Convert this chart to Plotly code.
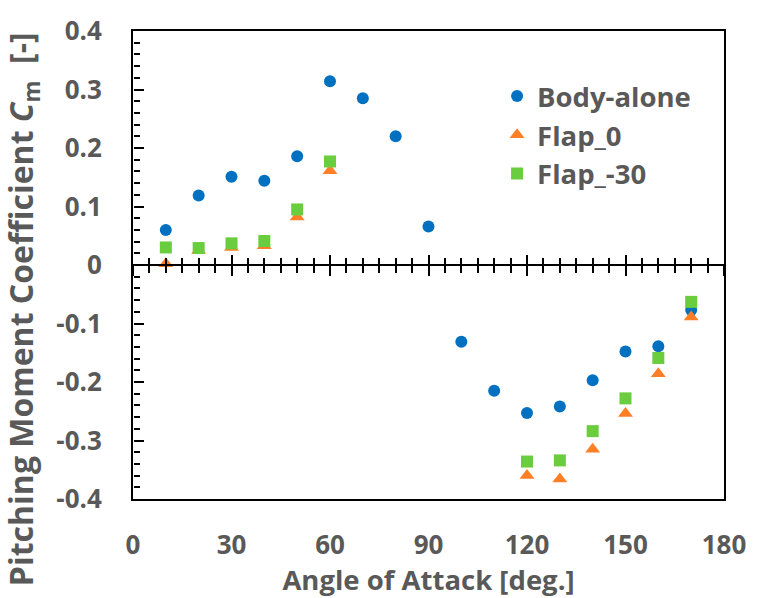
import plotly.graph_objects as go

angles = [10, 20, 30, 40, 50, 60, 70, 80, 90, 100, 110, 120, 130, 140, 150, 160, 170]
body_alone = [0.060, 0.119, 0.151, 0.144, 0.186, 0.314, 0.285, 0.220, 0.066,
              -0.131, -0.215, -0.253, -0.242, -0.197, -0.148, -0.139, -0.077]
flap_angles = [10, 20, 30, 40, 50, 60, 120, 130, 140, 150, 160, 170]
flap_0 = [0.002, 0.025, 0.030, 0.033, 0.082, 0.161, -0.360, -0.366, -0.315, -0.254, -0.186, -0.089]
flap_m30 = [0.030, 0.029, 0.037, 0.041, 0.095, 0.177, -0.336, -0.334, -0.284, -0.228, -0.159, -0.063]

x_ticks = [0, 30, 60, 90, 120, 150, 180]
y_ticks = [-0.4, -0.3, -0.2, -0.1, 0, 0.1, 0.2, 0.3, 0.4]
y_ticktext = ["-0.4", "-0.3", "-0.2", "-0.1", "0", "0.1", "0.2", "0.3", "0.4"]

GRAY = "#595959"
FONT = "Open Sans"

fig = go.Figure()
# invisible helper traces so the extra tick axes (x2, x3, y2) get drawn
for ax in ("x2", "x3"):
    fig.add_trace(go.Scatter(x=angles, y=body_alone, xaxis=ax, mode="markers",
                             marker=dict(opacity=0, size=1), showlegend=False,
                             hoverinfo="skip"))
fig.add_trace(go.Scatter(x=angles, y=body_alone, yaxis="y2", mode="markers",
                         marker=dict(opacity=0, size=1), showlegend=False,
                         hoverinfo="skip"))
fig.add_trace(go.Scatter(x=angles, y=body_alone, mode="markers", name="Body-alone",
                         legendgroup="a",
                         marker=dict(symbol="circle", size=12, color="#0070C0")))
fig.add_trace(go.Scatter(x=flap_angles, y=flap_0, mode="markers", name="Flap_0",
                         legendgroup="b",
                         marker=dict(symbol="triangle-up", size=13, color="#FF7F27")))
fig.add_trace(go.Scatter(x=flap_angles, y=flap_m30, mode="markers", name="Flap_-30",
                         legendgroup="c",
                         marker=dict(symbol="square", size=12, color="#6ACD3E")))

fig.update_layout(
    width=758, height=598,
    margin=dict(l=133, r=23, t=23, b=99),
    paper_bgcolor="white", plot_bgcolor="white",
    font=dict(family=FONT, color=GRAY),
    showlegend=True,
    legend=dict(x=0.616, y=0.913, xanchor="left", yanchor="top",
                font=dict(family=FONT, size=27.5, color=GRAY, weight="bold"),
                tracegroupgap=0, bgcolor="rgba(0,0,0,0)", itemwidth=30),
    xaxis=dict(range=[0, 180], tickvals=x_ticks, ticks="", showgrid=False, zeroline=False,
               showline=True, mirror=True, linecolor="black", linewidth=2,
               tickfont=dict(family=FONT, size=26, color=GRAY, weight="bold"),
               ticklabelstandoff=22,
               title=dict(text="Angle of Attack [deg.]", standoff=4,
                          font=dict(family=FONT, size=27.5, color=GRAY, weight="bold"))),
    xaxis2=dict(range=[0, 180], overlaying="x", anchor="free", position=0.5, side="bottom",
                tickvals=x_ticks, showticklabels=False, showgrid=False, zeroline=False,
                showline=True, linecolor="black", linewidth=2,
                ticks="outside", ticklen=10, tickwidth=2, tickcolor="black",
                minor=dict(dtick=5, tick0=0, ticks="outside", ticklen=7, tickwidth=2,
                           tickcolor="black", showgrid=False)),
    xaxis3=dict(range=[0, 180], overlaying="x", anchor="free", position=0.5, side="bottom",
                tickvals=x_ticks, showticklabels=False, showgrid=False, zeroline=False,
                showline=False,
                ticks="inside", ticklen=10, tickwidth=2, tickcolor="black",
                minor=dict(dtick=5, tick0=0, ticks="inside", ticklen=7, tickwidth=2,
                           tickcolor="black", showgrid=False)),
    yaxis=dict(range=[-0.4, 0.4], tickvals=y_ticks, ticktext=y_ticktext, ticks="",
               showgrid=False, zeroline=False,
               showline=True, mirror=True, linecolor="black", linewidth=2,
               tickfont=dict(family=FONT, size=26, color=GRAY, weight="bold"),
               ticklabelstandoff=24),
    yaxis2=dict(range=[-0.4, 0.4], overlaying="y", anchor="free", position=0, side="left",
                tickvals=y_ticks, showticklabels=False, showgrid=False, zeroline=False,
                showline=False,
                ticks="inside", ticklen=10, tickwidth=1.5, tickcolor="black",
                minor=dict(dtick=0.02, tick0=0, ticks="inside", ticklen=6, tickwidth=1.5,
                           tickcolor="black", showgrid=False)),
    annotations=[dict(text="Pitching Moment Coefficient <i>C</i><sub>m</sub>  [-]",
                      xref="paper", yref="paper", x=-0.185, y=0.405,
                      xanchor="center", yanchor="middle", textangle=-90, showarrow=False,
                      font=dict(family=FONT, size=32, color=GRAY, weight="bold"))],
)

fig.write_html("out.html")
